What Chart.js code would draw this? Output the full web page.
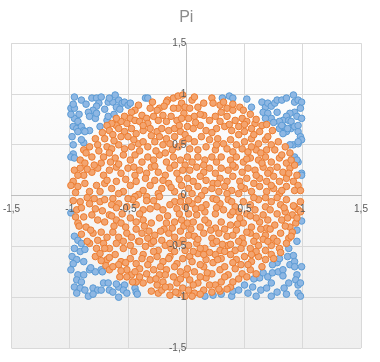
<!DOCTYPE html>
<html>
<head>
<meta charset="utf-8">
<script src="https://cdn.jsdelivr.net/npm/chart.js@4/dist/chart.umd.min.js"></script>
<style>
html,body{margin:0;padding:0;background:#fff;}
#c{display:block;}
</style>
</head>
<body>
<canvas id="c" width="380" height="362"></canvas>
<script>
// Pi - Punkte im Einheitsquadrat

const axisTicks = [-1.5, -1, -0.5, 0, 0.5, 1, 1.5];

// Punkte ausserhalb des Kreises (blau), je Ecke
const outsideNW = [[-0.96,0.97],[-0.90,0.94],[-0.99,0.86],[-0.96,0.86],[-0.97,0.90],[-0.81,0.96],[-0.77,0.96],[-0.73,0.97],[-0.75,0.91],[-0.77,0.88],[-0.80,0.84],[-0.84,0.82],[-0.83,0.78],[-0.78,0.76],[-0.77,0.81],[-0.67,0.92],[-0.63,0.92],[-0.66,0.96],[-0.58,0.94],[-0.60,0.87],[-0.55,0.91],[-0.53,0.92],[-0.50,0.89],[-0.48,0.91],[-0.57,0.85],[-0.35,0.96],[-0.33,0.96],[-0.61,0.99],[-0.96,0.76],[-0.93,0.73],[-0.97,0.68],[-0.94,0.66],[-0.90,0.68],[-0.88,0.64],[-0.93,0.63],[-0.83,0.64],[-0.87,0.63],[-0.74,0.68],[-0.68,0.74],[-0.67,0.78],[-0.97,0.50],[-0.88,0.52],[-0.97,0.41],[-0.99,0.38],[-0.96,0.37],[-0.99,0.80],[-0.92,0.80],[-0.86,0.90],[-0.70,0.85],[-0.62,0.80],[-0.98,0.58],[-0.90,0.55]];
const outsideNE = [[0.31,0.96],[0.37,0.98],[0.40,0.96],[0.52,0.95],[0.56,0.87],[0.65,0.92],[0.68,0.87],[0.70,0.91],[0.73,0.88],[0.76,0.91],[0.78,0.94],[0.82,0.94],[0.86,0.96],[0.92,0.99],[0.93,0.92],[0.96,0.94],[0.99,0.92],[0.98,0.86],[0.93,0.82],[0.89,0.81],[0.86,0.78],[0.83,0.74],[0.80,0.73],[0.88,0.74],[0.90,0.73],[0.95,0.78],[0.99,0.76],[0.80,0.66],[0.83,0.68],[0.86,0.63],[0.90,0.66],[0.93,0.68],[0.96,0.63],[0.98,0.58],[0.92,0.50],[0.96,0.51],[0.99,0.55],[0.93,0.38],[0.96,0.33],[0.99,0.22],[0.66,0.82],[0.70,0.81],[0.73,0.76],[0.78,0.82],[0.68,0.76],[0.75,0.72],[0.82,0.69],[0.87,0.66],[0.96,0.69],[0.83,0.61],[0.89,0.50],[0.96,0.53],[0.95,0.35],[0.99,0.20]];
const outsideSW = [[-0.99,-0.17],[-0.96,-0.40],[-0.93,-0.44],[-0.90,-0.47],[-0.96,-0.52],[-0.91,-0.55],[-0.87,-0.53],[-0.98,-0.60],[-0.94,-0.63],[-0.88,-0.65],[-0.97,-0.67],[-0.99,-0.73],[-0.93,-0.78],[-0.88,-0.78],[-0.94,-0.83],[-0.90,-0.85],[-0.96,-0.90],[-0.91,-0.91],[-0.87,-0.93],[-0.94,-0.96],[-0.83,-0.73],[-0.78,-0.75],[-0.73,-0.73],[-0.72,-0.75],[-0.80,-0.91],[-0.76,-0.93],[-0.71,-0.86],[-0.67,-0.86],[-0.66,-0.93],[-0.63,-0.95],[-0.58,-0.90],[-0.53,-0.88],[-0.54,-0.93],[-0.51,-0.96],[-0.44,-0.91],[-0.43,-0.95],[-0.73,-0.93],[-0.84,-0.99],[-0.80,-0.97],[-0.60,-0.87],[-0.58,-1.00],[-0.42,-0.97],[-0.82,-0.71]];
const outsideSE = [[0.16,-0.99],[0.23,-0.98],[0.30,-0.97],[0.39,-0.99],[0.40,-0.94],[0.45,-0.93],[0.50,-0.88],[0.53,-0.96],[0.57,-0.90],[0.60,-0.99],[0.63,-0.81],[0.64,-0.93],[0.58,-0.82],[0.66,-0.76],[0.69,-0.91],[0.70,-0.80],[0.73,-0.86],[0.73,-0.99],[0.74,-0.76],[0.79,-0.75],[0.78,-0.66],[0.74,-0.68],[0.78,-0.95],[0.80,-0.62],[0.83,-0.73],[0.83,-0.79],[0.84,-0.91],[0.86,-0.97],[0.87,-0.60],[0.88,-0.52],[0.88,-0.86],[0.89,-0.68],[0.92,-0.59],[0.93,-0.65],[0.93,-0.70],[0.95,-0.78],[0.94,-0.83],[0.96,-0.88],[0.98,-0.86],[0.99,-0.70],[0.96,-0.96],[0.98,-0.99],[0.95,-0.45],[0.95,-0.34],[0.99,-0.25]];

// Punkte innerhalb des Kreises (orange), je Viertel
const insideNW = [[-0.29,0.92],[-0.16,0.94],[-0.11,0.96],[-0.07,0.98],[-0.03,0.99],[-0.17,0.92],[-0.04,0.91],[-0.01,0.87],[-0.07,0.86],[-0.11,0.86],[-0.23,0.86],[-0.25,0.84],[-0.31,0.86],[-0.41,0.89],[-0.44,0.84],[-0.47,0.82],[-0.19,0.88],[-0.02,0.81],
  [-0.53,0.78],[-0.48,0.76],[-0.44,0.74],[-0.38,0.79],[-0.40,0.73],[-0.34,0.76],[-0.33,0.71],[-0.28,0.78],[-0.24,0.74],[-0.20,0.79],[-0.17,0.73],[-0.13,0.78],[-0.08,0.74],[-0.04,0.76],[-0.51,0.71],[-0.56,0.73],[-0.60,0.69],[-0.64,0.71],[-0.68,0.69],
  [-0.66,0.64],[-0.58,0.66],[-0.53,0.63],[-0.47,0.66],[-0.43,0.61],[-0.37,0.64],[-0.31,0.66],[-0.25,0.63],[-0.21,0.66],[-0.15,0.64],[-0.10,0.66],[-0.05,0.63],[-0.01,0.60],[-0.50,0.58],[-0.56,0.58],[-0.63,0.60],[-0.70,0.56],[-0.23,0.58],[-0.17,0.56],[-0.10,0.58],
  [-0.68,0.48],[-0.64,0.46],[-0.58,0.50],[-0.53,0.46],[-0.47,0.48],[-0.41,0.51],[-0.37,0.53],[-0.33,0.48],[-0.27,0.53],[-0.20,0.50],[-0.14,0.51],[-0.07,0.48],[-0.03,0.53],[-0.83,0.48],[-0.88,0.45],[-0.76,0.50],
  [-0.91,0.35],[-0.87,0.32],[-0.81,0.38],[-0.73,0.32],[-0.71,0.38],[-0.66,0.42],[-0.61,0.37],[-0.54,0.40],[-0.48,0.35],[-0.44,0.40],[-0.38,0.33],[-0.33,0.38],[-0.28,0.35],[-0.23,0.40],[-0.17,0.33],[-0.11,0.38],[-0.05,0.35],[-0.01,0.30],
  [-0.96,0.25],[-0.91,0.27],[-0.88,0.20],[-0.81,0.23],[-0.76,0.27],[-0.71,0.20],[-0.66,0.25],[-0.60,0.28],[-0.56,0.22],[-0.50,0.27],[-0.44,0.20],[-0.40,0.25],[-0.34,0.22],[-0.30,0.28],[-0.24,0.23],[-0.18,0.20],[-0.14,0.27],[-0.08,0.22],[-0.03,0.25],
  [-0.97,0.14],[-0.93,0.09],[-0.87,0.12],[-0.83,0.04],[-0.77,0.10],[-0.70,0.12],[-0.64,0.07],[-0.60,0.14],[-0.54,0.04],[-0.48,0.10],[-0.43,0.14],[-0.37,0.05],[-0.31,0.10],[-0.27,0.15],[-0.21,0.07],[-0.15,0.12],[-0.10,0.04],[-0.04,0.10],
  [-0.86,0.42],[-0.78,0.56],[-0.75,0.44],[-0.62,0.54],[-0.45,0.55],[-0.30,0.59],[-0.12,0.45],[-0.18,0.42],[-0.26,0.44],[-0.40,0.44],[-0.58,0.31],[-0.65,0.33],[-0.79,0.30],[-0.93,0.20],[-0.85,0.26],[-0.68,0.15],[-0.52,0.16],[-0.35,0.17],[-0.20,0.15],[-0.06,0.16],[-0.95,0.03],[-0.74,0.04],[-0.58,0.02],[-0.41,0.01],[-0.24,0.02],[-0.13,0.08],[-0.45,0.28],[-0.27,0.29],[-0.10,0.30],[-0.37,0.69],[-0.06,0.69],[-0.60,0.76],[-0.72,0.62],[-0.99,0.10]];
const insideNE = [[0.05,0.94],[0.07,0.97],[0.22,0.96],[0.23,0.91],[0.15,0.91],[0.10,0.87],[0.03,0.86],[0.29,0.89],[0.35,0.86],[0.40,0.84],[0.46,0.87],[0.49,0.84],
  [0.02,0.76],[0.07,0.78],[0.15,0.79],[0.20,0.74],[0.25,0.78],[0.29,0.73],[0.35,0.78],[0.42,0.74],[0.48,0.76],[0.52,0.73],[0.59,0.71],[0.65,0.69],[0.69,0.70],[0.74,0.64],
  [0.01,0.68],[0.06,0.66],[0.12,0.69],[0.17,0.64],[0.26,0.66],[0.33,0.68],[0.39,0.64],[0.45,0.68],[0.50,0.63],[0.56,0.66],[0.63,0.63],
  [0.02,0.56],[0.07,0.53],[0.13,0.58],[0.20,0.55],[0.27,0.56],[0.32,0.51],[0.38,0.55],[0.43,0.50],[0.50,0.53],[0.56,0.56],[0.62,0.51],[0.68,0.55],[0.73,0.50],[0.79,0.53],[0.85,0.48],[0.03,0.46],[0.10,0.45],[0.17,0.48],[0.25,0.45],[0.35,0.46],[0.40,0.43],[0.48,0.46],[0.53,0.43],[0.60,0.45],[0.69,0.45],[0.76,0.45],
  [0.01,0.38],[0.05,0.33],[0.10,0.38],[0.16,0.35],[0.22,0.38],[0.26,0.33],[0.30,0.38],[0.38,0.35],[0.43,0.38],[0.49,0.33],[0.55,0.37],[0.62,0.35],[0.68,0.38],[0.73,0.33],[0.80,0.37],[0.86,0.32],[0.89,0.42],
  [0.03,0.25],[0.09,0.28],[0.15,0.23],[0.20,0.27],[0.25,0.22],[0.30,0.27],[0.36,0.25],[0.42,0.28],[0.48,0.23],[0.53,0.27],[0.59,0.25],[0.66,0.28],[0.72,0.25],[0.78,0.28],[0.83,0.23],[0.89,0.27],
  [0.01,0.17],[0.06,0.14],[0.12,0.19],[0.17,0.15],[0.23,0.12],[0.29,0.17],[0.35,0.14],[0.40,0.19],[0.46,0.14],[0.52,0.17],[0.58,0.12],[0.63,0.17],[0.69,0.14],[0.75,0.19],[0.80,0.14],[0.86,0.17],[0.92,0.14],[0.96,0.10],
  [0.02,0.07],[0.05,0.02],[0.10,0.09],[0.16,0.05],[0.22,0.07],[0.28,0.04],[0.33,0.09],[0.39,0.05],[0.45,0.02],[0.50,0.07],[0.56,0.04],[0.63,0.09],[0.69,0.04],[0.75,0.07],[0.80,0.02],[0.86,0.09],[0.93,0.05],
  [0.12,0.80],[0.30,0.82],[0.40,0.90],[0.55,0.80],[0.60,0.75],[0.32,0.92],[0.08,0.72],[0.22,0.62],[0.45,0.60],[0.58,0.60],[0.70,0.58],[0.82,0.40],[0.93,0.30],[0.95,0.20],[0.98,0.05],[0.90,0.35],[0.64,0.42],[0.56,0.48],[0.15,0.30],[0.27,0.12],[0.40,0.30],[0.52,0.36],[0.70,0.22],[0.82,0.05],[0.60,0.20],[0.47,0.09],[0.35,0.02],[0.13,0.00],[0.73,0.10],[0.88,0.22],[0.37,0.70],[0.50,0.70],[0.26,0.50],[0.65,0.32]];
const insideSW = [[-0.63,-0.03],[-0.44,-0.01],[-0.34,-0.01],[-0.23,-0.01],[-0.10,-0.06],[-0.04,-0.01],
  [-0.91,-0.06],[-0.83,-0.08],[-0.74,-0.06],[-0.64,-0.09],[-0.58,-0.08],[-0.51,-0.11],[-0.43,-0.09],[-0.37,-0.14],[-0.31,-0.13],[-0.25,-0.11],[-0.20,-0.14],[-0.14,-0.09],[-0.08,-0.13],[-0.01,-0.11],
  [-0.94,-0.14],[-0.88,-0.21],[-0.81,-0.19],[-0.76,-0.24],[-0.70,-0.26],[-0.66,-0.19],[-0.60,-0.24],[-0.56,-0.27],[-0.48,-0.22],[-0.43,-0.26],[-0.37,-0.24],[-0.30,-0.27],[-0.23,-0.22],[-0.17,-0.27],[-0.10,-0.26],[-0.04,-0.24],
  [-0.93,-0.27],[-0.86,-0.31],[-0.80,-0.37],[-0.73,-0.36],[-0.68,-0.41],[-0.63,-0.36],[-0.58,-0.41],[-0.51,-0.37],[-0.47,-0.41],[-0.38,-0.37],[-0.33,-0.42],[-0.27,-0.39],[-0.21,-0.44],[-0.15,-0.37],[-0.10,-0.41],[-0.03,-0.44],
  [-0.83,-0.47],[-0.77,-0.52],[-0.71,-0.47],[-0.66,-0.52],[-0.60,-0.47],[-0.54,-0.52],[-0.48,-0.49],[-0.41,-0.45],[-0.35,-0.50],[-0.30,-0.47],[-0.24,-0.54],[-0.18,-0.49],[-0.13,-0.52],[-0.07,-0.47],[-0.01,-0.54],
  [-0.78,-0.60],[-0.74,-0.57],[-0.68,-0.63],[-0.61,-0.58],[-0.56,-0.65],[-0.48,-0.62],[-0.43,-0.67],[-0.37,-0.58],[-0.31,-0.63],[-0.25,-0.60],[-0.20,-0.65],[-0.14,-0.60],[-0.08,-0.67],[-0.03,-0.62],
  [-0.69,-0.69],[-0.66,-0.73],[-0.58,-0.68],[-0.51,-0.73],[-0.47,-0.78],[-0.40,-0.72],[-0.34,-0.77],[-0.28,-0.73],[-0.23,-0.78],[-0.17,-0.73],[-0.11,-0.80],[-0.05,-0.75],[0.00,-0.78],
  [-0.57,-0.80],[-0.43,-0.85],[-0.37,-0.86],[-0.31,-0.83],[-0.25,-0.88],[-0.20,-0.85],[-0.14,-0.90],[-0.08,-0.86],[-0.03,-0.91],
  [-0.30,-0.94],[-0.24,-0.96],[-0.21,-0.93],[-0.14,-0.98],[-0.07,-0.96],[-0.01,-0.99],
  [-0.97,-0.05],[-0.90,-0.12],[-0.85,-0.02],[-0.78,-0.13],[-0.70,-0.04],[-0.55,-0.18],[-0.46,-0.04],[-0.40,-0.18],[-0.28,-0.05],[-0.16,-0.20],[-0.06,-0.18],[-0.95,-0.21],[-0.90,-0.38],[-0.85,-0.45],[-0.76,-0.44],[-0.62,-0.30],[-0.52,-0.31],[-0.43,-0.33],[-0.36,-0.30],[-0.12,-0.32],[-0.05,-0.35],[-0.66,-0.61],[-0.73,-0.64],[-0.54,-0.45],[-0.45,-0.55],[-0.28,-0.55],[-0.10,-0.55],[-0.56,-0.74],[-0.46,-0.85],[-0.33,-0.68],[-0.26,-0.82],[-0.18,-0.90],[-0.05,-0.82],[-0.10,-0.70],[-0.22,-0.70],[-0.38,-0.62],[-0.51,-0.80],[-0.63,-0.70],[-0.82,-0.34],[-0.72,-0.15],[-0.60,-0.12],[-0.34,-0.05],[-0.19,-0.33],[-0.28,-0.45],[-0.14,-0.47],[-0.40,-0.80],[-0.09,-0.95],[-0.18,-0.78],[-0.52,-0.66],[-0.44,-0.75],[-0.70,-0.52],[-0.92,-0.30],[-0.79,-0.03],[-0.64,-0.20],[-0.50,-0.03],[-0.22,-0.35],[-0.05,-0.06],[-0.02,-0.30],[-0.15,-0.62],[-0.32,-0.35],[-0.40,-0.45]];
const insideSE = [[0.05,-0.08],[0.10,-0.04],[0.17,-0.09],[0.23,-0.03],[0.29,-0.08],[0.36,-0.04],[0.42,-0.11],[0.49,-0.06],[0.55,-0.09],[0.62,-0.04],[0.68,-0.11],[0.73,-0.06],[0.81,-0.09],[0.86,-0.04],[0.93,-0.11],[0.98,-0.06],
  [0.02,-0.18],[0.09,-0.19],[0.16,-0.16],[0.25,-0.18],[0.32,-0.14],[0.38,-0.19],[0.45,-0.16],[0.52,-0.18],[0.59,-0.14],[0.66,-0.19],[0.72,-0.14],[0.78,-0.18],[0.85,-0.16],[0.91,-0.19],[0.96,-0.14],
  [0.01,-0.27],[0.06,-0.26],[0.12,-0.31],[0.19,-0.27],[0.25,-0.32],[0.30,-0.26],[0.38,-0.29],[0.43,-0.34],[0.49,-0.27],[0.56,-0.31],[0.63,-0.26],[0.69,-0.32],[0.76,-0.29],[0.82,-0.24],[0.89,-0.31],[0.94,-0.27],
  [0.02,-0.39],[0.07,-0.40],[0.15,-0.37],[0.22,-0.42],[0.28,-0.37],[0.35,-0.40],[0.40,-0.39],[0.48,-0.42],[0.55,-0.37],[0.60,-0.40],[0.68,-0.39],[0.75,-0.42],[0.81,-0.37],[0.88,-0.42],[0.91,-0.36],
  [0.02,-0.49],[0.09,-0.47],[0.16,-0.52],[0.23,-0.47],[0.29,-0.54],[0.36,-0.49],[0.42,-0.54],[0.49,-0.47],[0.55,-0.52],[0.62,-0.49],[0.68,-0.54],[0.73,-0.49],[0.80,-0.52],[0.86,-0.47],
  [0.03,-0.60],[0.10,-0.57],[0.17,-0.63],[0.25,-0.58],[0.30,-0.62],[0.38,-0.58],[0.43,-0.63],[0.50,-0.60],[0.56,-0.65],[0.62,-0.60],[0.68,-0.63],[0.73,-0.58],
  [0.01,-0.72],[0.07,-0.75],[0.15,-0.70],[0.22,-0.77],[0.29,-0.73],[0.36,-0.78],[0.42,-0.72],[0.48,-0.77],[0.55,-0.73],[0.60,-0.77],
  [0.03,-0.83],[0.10,-0.86],[0.17,-0.81],[0.25,-0.88],[0.30,-0.85],[0.38,-0.90],
  [0.02,-0.93],[0.07,-0.96],[0.15,-0.93],[0.22,-0.95],[0.29,-0.94],[0.05,-0.99],
  [0.13,-0.12],[0.26,-0.12],[0.39,-0.06],[0.46,-0.22],[0.60,-0.22],[0.70,-0.24],[0.84,-0.12],[0.95,-0.22],[0.98,-0.16],[0.04,-0.33],[0.16,-0.24],[0.33,-0.33],[0.52,-0.36],[0.66,-0.43],[0.72,-0.33],[0.85,-0.30],[0.92,-0.10],[0.10,-0.43],[0.26,-0.45],[0.45,-0.45],[0.58,-0.45],[0.78,-0.45],[0.81,-0.56],[0.06,-0.55],[0.20,-0.56],[0.33,-0.55],[0.47,-0.52],[0.60,-0.55],[0.75,-0.62],[0.65,-0.70],[0.53,-0.68],[0.40,-0.66],[0.23,-0.66],[0.12,-0.68],[0.05,-0.65],[0.18,-0.76],[0.33,-0.70],[0.45,-0.82],[0.52,-0.80],[0.40,-0.85],[0.33,-0.80],[0.20,-0.88],[0.12,-0.80],[0.06,-0.88],[0.35,-0.92],[0.12,-0.97],[0.27,-0.63],[0.15,-0.58],[0.70,-0.45],[0.64,-0.33],[0.40,-0.16],[0.55,-0.20],[0.21,-0.34],[0.08,-0.13],[0.31,-0.48],[0.58,-0.02],[0.78,-0.02],[0.90,-0.40],[0.44,-0.28],[0.26,-0.04],[0.12,-0.52],[0.38,-0.48],[0.56,-0.58],[0.47,-0.68],[0.28,-0.92],[0.02,-0.05],[0.68,-0.02],[0.87,-0.22]];

const fmt = v => String(v).replace('.', ',');
const toXY = arr => arr.map(p => ({x: p[0], y: p[1]}));
const insidePts = toXY([].concat(insideNW, insideNE, insideSW, insideSE));
const outsidePts = toXY([].concat(outsideNW, outsideNE, outsideSW, outsideSE));

// leichter Verlauf im Zeichnungsbereich
const plotBg = {
  id: 'plotBg',
  beforeDraw(chart) {
    const {ctx, chartArea: a} = chart;
    const g = ctx.createLinearGradient(0, a.top, 0, a.bottom);
    g.addColorStop(0, '#ffffff');
    g.addColorStop(1, '#efefef');
    ctx.save();
    ctx.fillStyle = g;
    ctx.fillRect(a.left, a.top, a.right - a.left, a.bottom - a.top);
    ctx.restore();
  }
};

const tickFont = {family: "'Liberation Sans', Arial, sans-serif", size: 10};

function axisOpts(isX) {
  return {
    type: 'linear',
    min: -1.5,
    max: 1.5,
    position: isX ? {y: 0} : {x: 0},
    afterBuildTicks: s => { s.ticks = axisTicks.map(v => ({value: v})); },
    // Achsen im Kreuz: kein Platz reservieren
    afterFit: s => {
      if (isX) s.height = 0; else s.width = 0;
      s.paddingLeft = s.paddingRight = s.paddingTop = s.paddingBottom = 0;
    },
    grid: {color: '#d9d9d9', lineWidth: 1, drawTicks: false},
    border: {color: '#bfbfbf'},
    ticks: {
      z: 1,
      padding: isX ? 8 : 10,
      color: '#595959',
      font: tickFont,
      maxRotation: 0,
      autoSkip: false,
      callback: v => fmt(v)
    }
  };
}

new Chart(document.getElementById('c'), {
  type: 'scatter',
  data: {
    datasets: [
      {
        label: 'innen',
        data: insidePts,
        backgroundColor: '#F3A46F',
        borderColor: '#ED7D31',
        borderWidth: 1,
        pointRadius: 3.3,
        pointHoverRadius: 3.3
      },
      {
        label: 'außen',
        data: outsidePts,
        backgroundColor: '#8EB7E3',
        borderColor: '#5B9BD5',
        borderWidth: 1,
        pointRadius: 3.3,
        pointHoverRadius: 3.3
      }
    ]
  },
  options: {
    responsive: false,
    animation: false,
    layout: {padding: {left: 11.5, right: 19, top: 0, bottom: 14}},
    plugins: {
      legend: {display: false},
      tooltip: {enabled: false},
      title: {
        display: true,
        text: 'Pi',
        color: '#8c8c8c',
        font: {family: "'Liberation Sans', Arial, sans-serif", size: 16, weight: 'normal'},
        padding: {top: 8, bottom: 16}
      }
    },
    scales: {
      x: axisOpts(true),
      y: axisOpts(false)
    }
  },
  plugins: [plotBg]
});
</script>
</body>
</html>
